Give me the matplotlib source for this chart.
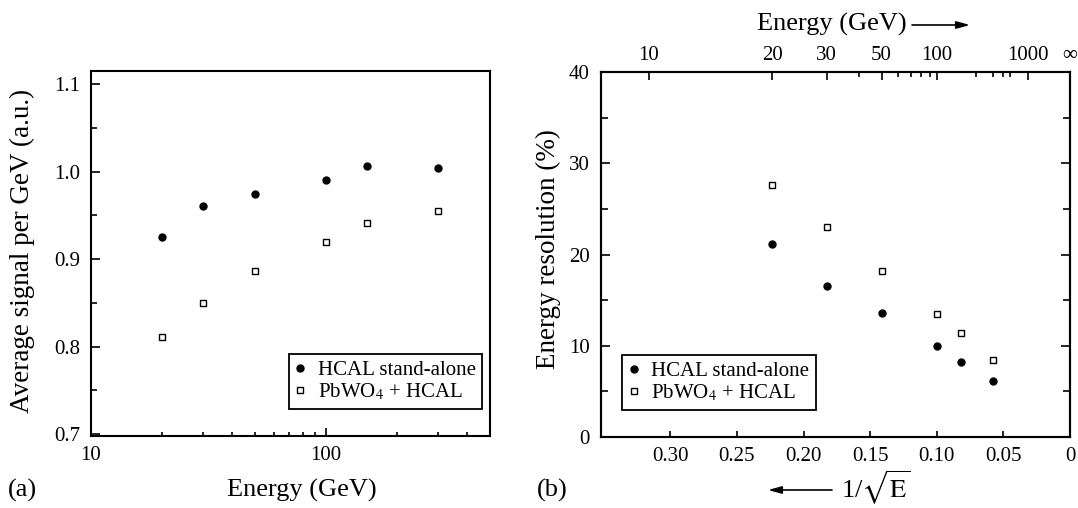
import numpy as np
import matplotlib
matplotlib.use("Agg")
import matplotlib.pyplot as plt
from matplotlib.ticker import FixedLocator, NullFormatter, NullLocator

plt.rcParams['font.family'] = ['Liberation Serif', 'DejaVu Serif']
plt.rcParams['mathtext.fontset'] = 'stix'

# ---- data ----
energy = [20, 30, 50, 100, 150, 300]
signal_hcal = [0.925, 0.961, 0.975, 0.991, 1.007, 1.004]
signal_pbwo4 = [0.811, 0.850, 0.886, 0.920, 0.941, 0.955]
res_hcal = [21.1, 16.5, 13.6, 10.0, 8.25, 6.1]
res_pbwo4 = [27.6, 23.0, 18.2, 13.5, 11.45, 8.47]

label_hcal = "HCAL stand-alone"
label_pbwo4 = "PbWO$_4$ + HCAL"

left_yticks = [0.7, 0.8, 0.9, 1.0, 1.1]
left_xticks = [10, 100]
left_xminor = [20, 30, 40, 50, 60, 70, 80, 90, 200, 300, 400]
right_yticks = [0, 10, 20, 30, 40]
right_xticks = [0.30, 0.25, 0.20, 0.15, 0.10, 0.05, 0.0]
right_xticklabels = ["0.30", "0.25", "0.20", "0.15", "0.10", "0.05", "0"]
top_energy_major = [10, 20, 30, 50, 100, 1000]
top_energy_minor = [40, 60, 70, 80, 90, 200, 300, 400, 500]

W, H = 1078, 508
fig = plt.figure(figsize=(W / 100, H / 100), dpi=100)
fig.patch.set_facecolor('white')

def px_axes(l, t, r, b):
    return fig.add_axes([l / W, (H - b) / H, (r - l) / W, (b - t) / H])

tick_fs = 15
lab_fs = 19
leg_fs = 15

# ---------------- (a) ----------------
ax1 = px_axes(91, 71, 490, 436)
ax1.plot(energy, signal_hcal, 'o', color='black', ms=5, label=label_hcal)
ax1.plot(energy, signal_pbwo4, 's', mfc='white', mec='black', mew=1.0, ms=4.5,
         label=label_pbwo4)
ax1.set_xscale('log')
ax1.set_xlim(10, 500)
ax1.set_ylim(0.698, 1.115)
ax1.xaxis.set_major_locator(FixedLocator(left_xticks))
ax1.xaxis.set_minor_locator(FixedLocator(left_xminor))
ax1.xaxis.set_minor_formatter(NullFormatter())
ax1.set_xticklabels([str(v) for v in left_xticks])
ax1.set_yticks(left_yticks)
ax1.set_yticklabels([f"{v:.1f}" for v in left_yticks])
ax1.yaxis.set_minor_locator(FixedLocator([0.75, 0.85, 0.95, 1.05]))
ax1.tick_params(axis='both', which='both', direction='in', labelsize=tick_fs,
                top=False, right=False, width=1.2)
ax1.tick_params(axis='y', which='major', length=6.5, pad=8)
ax1.tick_params(axis='y', which='minor', length=4.5)
ax1.tick_params(axis='x', which='major', length=6, pad=7)
ax1.tick_params(axis='x', which='minor', length=3)
for s in ax1.spines.values():
    s.set_linewidth(1.5)
leg1 = ax1.legend(loc='lower right', bbox_to_anchor=(0.98, 0.074), borderaxespad=0,
                  frameon=True, fancybox=False, edgecolor='black', fontsize=leg_fs,
                  handlelength=0.5, handletextpad=0.6, labelspacing=0.1,
                  borderpad=0.3, framealpha=1)
leg1.get_frame().set_linewidth(1.3)

fig.text(22 / W, 1 - 251 / H, "Average signal per GeV (a.u.)", rotation=90,
         ha='center', va='center', fontsize=19.5)
fig.text(302 / W, 1 - 490 / H, "Energy (GeV)", ha='center', va='center', fontsize=lab_fs)
fig.text(8 / W, 1 - 490 / H, "(a)", ha='left', va='center', fontsize=lab_fs)

# ---------------- (b) ----------------
ax2 = px_axes(601, 72, 1070, 437)
inv_sqrt_e = 1.0 / np.sqrt(np.array(energy, dtype=float))
ax2.plot(inv_sqrt_e, res_hcal, 'o', color='black', ms=5, label=label_hcal)
ax2.plot(inv_sqrt_e, res_pbwo4, 's', mfc='white', mec='black', mew=1.0, ms=4.5,
         label=label_pbwo4)
ax2.set_xlim(0.352, 0.0)
ax2.set_ylim(0, 40)
ax2.set_xticks(right_xticks)
ax2.set_xticklabels(right_xticklabels)
ax2.xaxis.set_minor_locator(NullLocator())
ax2.set_yticks(right_yticks)
ax2.set_yticklabels([str(v) for v in right_yticks])
ax2.yaxis.set_minor_locator(FixedLocator([5, 15, 25, 35]))
ax2.tick_params(axis='both', which='both', direction='in', labelsize=tick_fs,
                top=False, right=True, width=1.2)
ax2.tick_params(axis='y', which='major', length=6.5, pad=8)
ax2.tick_params(axis='y', which='minor', length=5)
ax2.tick_params(axis='x', which='major', length=4, pad=7)
for s in ax2.spines.values():
    s.set_linewidth(1.5)

ax2t = ax2.twiny()
ax2t.set_xlim(ax2.get_xlim())
top_pos = [1.0 / np.sqrt(e) for e in top_energy_major] + [0.0]
top_lab = [str(e) for e in top_energy_major] + ["\u221e"]
ax2t.set_xticks(top_pos)
ax2t.set_xticklabels(top_lab)
ax2t.xaxis.set_minor_locator(FixedLocator([1.0 / np.sqrt(e) for e in top_energy_minor]))
ax2t.xaxis.set_minor_formatter(NullFormatter())
ax2t.tick_params(axis='x', which='both', direction='in', labelsize=tick_fs, width=1.2)
ax2t.tick_params(axis='x', which='major', length=6, pad=5)
ax2t.tick_params(axis='x', which='minor', length=3.5)
for s in ax2t.spines.values():
    s.set_linewidth(1.5)

leg2 = ax2.legend(loc='lower left', bbox_to_anchor=(0.045, 0.074), borderaxespad=0,
                  frameon=True, fancybox=False, edgecolor='black', fontsize=leg_fs,
                  handlelength=0.5, handletextpad=0.6, labelspacing=0.1,
                  borderpad=0.3, framealpha=1)
leg2.get_frame().set_linewidth(1.3)

fig.text(548 / W, 1 - 249 / H, "Energy resolution (%)", rotation=90,
         ha='center', va='center', fontsize=19.5)
fig.text(537 / W, 1 - 490 / H, "(b)", ha='left', va='center', fontsize=lab_fs)
fig.text(832 / W, 1 - 24 / H, "Energy (GeV)", ha='center', va='center', fontsize=lab_fs)
fig.text(876 / W, 1 - 488 / H, r"1/$\sqrt{\mathrm{E}}$", ha='center', va='center',
         fontsize=lab_fs)

arrow_kw = dict(arrowstyle='-|>,head_length=0.8,head_width=0.22', color='black', lw=1.2,
                shrinkA=0, shrinkB=0)
ax2.annotate("", xy=(970 / W, 1 - 25 / H), xytext=(912 / W, 1 - 25 / H),
             xycoords='figure fraction', textcoords='figure fraction',
             arrowprops=arrow_kw, annotation_clip=False)
ax2.annotate("", xy=(768 / W, 1 - 490 / H), xytext=(832 / W, 1 - 490 / H),
             xycoords='figure fraction', textcoords='figure fraction',
             arrowprops=arrow_kw, annotation_clip=False)

fig.savefig("out.png", dpi=100, facecolor='white')
